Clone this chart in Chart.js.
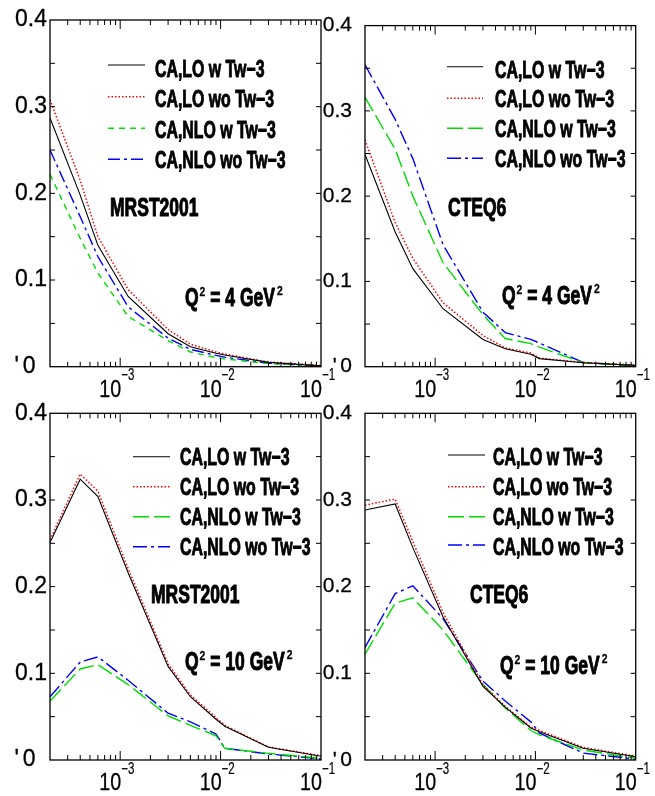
<!DOCTYPE html>
<html><head><meta charset="utf-8">
<script src="https://cdn.jsdelivr.net/npm/chart.js@4.4.1/dist/chart.umd.min.js"></script>
<style>
html,body{margin:0;padding:0;background:#fff;}
#wrap{position:relative;width:655px;height:796px;overflow:hidden;background:#fff;}
canvas{position:absolute;left:0;top:0;}
</style></head><body>
<div id="wrap">
<canvas id="c1" width="655" height="796"></canvas>
<canvas id="c2" width="655" height="796"></canvas>
<canvas id="c3" width="655" height="796"></canvas>
<canvas id="c4" width="655" height="796"></canvas>
</div>
<script>
// ---- data ----
const X_VALUES = [2e-4, 4e-4, 6e-4, 1.2e-3, 3e-3, 5e-3, 9e-3, 1.1e-2, 3e-2, 1e-1];
const SERIES_NAMES = ['CA,LO w Tw\u22123', 'CA,LO wo Tw\u22123', 'CA,NLO w Tw\u22123', 'CA,NLO wo Tw\u22123'];

// MRST2001, Q^2 = 4 GeV^2
const MRST_Q4_LO_W   = [0.287, 0.198, 0.140, 0.081, 0.038, 0.023, 0.0155, 0.0135, 0.005, 0.001];
const MRST_Q4_LO_WO  = [0.308, 0.215, 0.150, 0.089, 0.043, 0.026, 0.017, 0.0145, 0.0055, 0.0015];
const MRST_Q4_NLO_W  = [0.222, 0.148, 0.108, 0.058, 0.030, 0.017, 0.0105, 0.009, 0.0035, 0.001];
const MRST_Q4_NLO_WO = [0.250, 0.173, 0.127, 0.069, 0.033, 0.020, 0.013, 0.011, 0.004, 0.0008];

// CTEQ6, Q^2 = 4 GeV^2
const CTEQ_Q4_LO_W   = [0.249, 0.158, 0.115, 0.068, 0.032, 0.021, 0.0147, 0.0095, 0.0047, 0.0016];
const CTEQ_Q4_LO_WO  = [0.266, 0.169, 0.127, 0.075, 0.0366, 0.022, 0.016, 0.0100, 0.005, 0.0018];
const CTEQ_Q4_NLO_W  = [0.316, 0.255, 0.200, 0.122, 0.061, 0.033, 0.027, 0.023, 0.0046, 0.001];
const CTEQ_Q4_NLO_WO = [0.354, 0.290, 0.244, 0.143, 0.064, 0.040, 0.032, 0.0277, 0.005, 0.001];

// MRST2001, Q^2 = 10 GeV^2
const MRST_Q10_LO_W   = [0.251, 0.324, 0.304, 0.216, 0.108, 0.073, 0.047, 0.039, 0.0147, 0.0043];
const MRST_Q10_LO_WO  = [0.254, 0.330, 0.310, 0.221, 0.111, 0.075, 0.049, 0.040, 0.015, 0.005];
const MRST_Q10_NLO_W  = [0.068, 0.105, 0.110, 0.087, 0.051, 0.040, 0.028, 0.0135, 0.0077, 0.002];
const MRST_Q10_NLO_WO = [0.073, 0.113, 0.119, 0.092, 0.054, 0.044, 0.030, 0.0135, 0.007, 0.0012];

// CTEQ6, Q^2 = 10 GeV^2
const CTEQ_Q10_LO_W   = [0.2885, 0.2954, 0.245, 0.165, 0.085, 0.061, 0.037, 0.0327, 0.0135, 0.0038];
const CTEQ_Q10_LO_WO  = [0.294, 0.301, 0.252, 0.170, 0.087, 0.062, 0.038, 0.034, 0.0145, 0.0045];
const CTEQ_Q10_NLO_W  = [0.122, 0.181, 0.187, 0.150, 0.087, 0.060, 0.034, 0.029, 0.0115, 0.002];
const CTEQ_Q10_NLO_WO = [0.130, 0.192, 0.201, 0.163, 0.091, 0.068, 0.044, 0.031, 0.008, 0.001];

const Y_TICKS = [0, 0.1, 0.2, 0.3, 0.4];
const Y_TICK_LABELS = ['0', '0.1', '0.2', '0.3', '0.4'];
const X_TICKS = [1e-3, 1e-2, 1e-1];
const X_TICK_EXPONENTS = ['\u22123', '\u22122', '\u22121'];
const PDF_NAMES = ['MRST2001', 'CTEQ6', 'MRST2001', 'CTEQ6'];
const Q2_VALUES = ['4', '4', '10', '10'];

// ---- layout & style (not data) ----
const FONT = "'Liberation Sans', Arial, Helvetica, sans-serif";
const COLORS = ['#000000', '#ff0000', '#00dd00', '#0000ff'];
const WIDTHS = [1.1, 1.5, 1.4, 1.4];
const PANELS = [
  {id:'c1', series:[MRST_Q4_LO_W, MRST_Q4_LO_WO, MRST_Q4_NLO_W, MRST_Q4_NLO_WO],
   left:50, right:321, top:20, bottom:366.7, col:0, labelPad:3, labelSize:23,
   greenDash:[6,5], blueDash:[12,4,3,4],
   leg:{x0:108, x1:145, tx:155, ly:[65,96.7,128.3,159.3], by:[76.5,107,138,168]},
   pdf:{x:110, y:216}, q:{x:185, y:306}},
  {id:'c2', series:[CTEQ_Q4_LO_W, CTEQ_Q4_LO_WO, CTEQ_Q4_NLO_W, CTEQ_Q4_NLO_WO],
   left:365, right:635.7, top:20, bottom:366.7, col:1, labelPad:13, labelSize:21,
   greenDash:[16,5], blueDash:[14,4,3,4],
   leg:{x0:447, x1:483, tx:495, ly:[66.7,98.3,128.3,158.3], by:[78,107,137,167]},
   pdf:{x:448, y:216}, q:{x:502, y:304}},
  {id:'c3', series:[MRST_Q10_LO_W, MRST_Q10_LO_WO, MRST_Q10_NLO_W, MRST_Q10_NLO_WO],
   left:50, right:321, top:413.3, bottom:760, col:0, labelPad:3, labelSize:23,
   greenDash:[16,5], blueDash:[14,4,3,4],
   leg:{x0:133, x1:170, tx:180, ly:[456.7,486.7,516.7,546.7], by:[465,495,525,555]},
   pdf:{x:151, y:603}, q:{x:185, y:670}},
  {id:'c4', series:[CTEQ_Q10_LO_W, CTEQ_Q10_LO_WO, CTEQ_Q10_NLO_W, CTEQ_Q10_NLO_WO],
   left:365, right:635.7, top:413.3, bottom:760, col:1, labelPad:13, labelSize:21,
   greenDash:[16,5], blueDash:[14,4,3,4],
   leg:{x0:448, x1:485, tx:493, ly:[455,486.7,516.7,545], by:[465,495,525,555]},
   pdf:{x:470, y:603}, q:{x:500, y:674}}
];
const W = 655, H = 796, YW = 50, XH = 30;

function measure(ctx, str, font) {
  ctx.save(); ctx.font = font; const w = ctx.measureText(str).width; ctx.restore(); return w;
}
function drawText(ctx, str, x, y, font, sx, align, stroke) {
  ctx.save(); ctx.font = font; ctx.fillStyle = '#000'; ctx.strokeStyle = '#000';
  ctx.textAlign = align || 'left'; ctx.textBaseline = 'alphabetic';
  ctx.translate(x, y); ctx.scale(sx, 1); ctx.fillText(str, 0, 0);
  if (stroke) { ctx.lineWidth = stroke; ctx.lineJoin = 'round'; ctx.strokeText(str, 0, 0); }
  ctx.restore();
  return measure(ctx, str, font) * sx;
}

const decorPlugin = {
  id: 'decor',
  afterDatasetsDraw(chart, args, opts) {
    const P = opts.panel;
    const {ctx, chartArea: a} = chart;
    const xs = chart.scales.x, ys = chart.scales.y;
    ctx.save();
    ctx.strokeStyle = '#000';
    ctx.setLineDash([]);
    // frame
    ctx.lineWidth = 1.3;
    ctx.strokeRect(a.left, a.top, a.right - a.left, a.bottom - a.top);
    // y ticks (inward, both sides)
    ctx.lineWidth = 1;
    ctx.beginPath();
    for (let i = 1; i < 8; i++) {
      const py = ys.getPixelForValue(i * 0.05);
      ctx.moveTo(a.left, py); ctx.lineTo(a.left + 5, py);
      ctx.moveTo(a.right, py); ctx.lineTo(a.right - 5, py);
    }
    // x ticks (log, inward, bottom and top)
    for (let e = -4; e <= -1; e++) {
      for (let k = 1; k <= 9; k++) {
        const v = k * Math.pow(10, e);
        if (v <= xs.min * 1.001 || v >= xs.max * 0.999) continue;
        const px = xs.getPixelForValue(v);
        const len = k === 1 ? 9 : 5;
        ctx.moveTo(px, a.bottom); ctx.lineTo(px, a.bottom - len);
        ctx.moveTo(px, a.top); ctx.lineTo(px, a.top + len);
      }
    }
    ctx.stroke();
    // x tick labels 10^n
    X_TICKS.forEach((v, i) => {
      const px = xs.getPixelForValue(v);
      drawText(ctx, '10', px + 1, a.bottom + 30, `24px ${FONT}`, 0.82, 'right', 0.3);
      drawText(ctx, X_TICK_EXPONENTS[i], px + 1, a.bottom + 13.5, `16px ${FONT}`, 0.72, 'left', 0.2);
    });
    // legend
    const L = P.leg;
    chart.data.datasets.forEach((ds, i) => {
      ctx.save();
      ctx.strokeStyle = ds.borderColor; ctx.lineWidth = ds.borderWidth;
      ctx.setLineDash(ds.borderDash || []);
      ctx.beginPath(); ctx.moveTo(L.x0, L.ly[i]); ctx.lineTo(L.x1, L.ly[i]); ctx.stroke();
      ctx.restore();
      drawText(ctx, ds.label, L.tx, L.by[i], `bold 23px ${FONT}`, 0.69, 'left', 0.9);
    });
    // PDF set name
    drawText(ctx, opts.pdfName, P.pdf.x, P.pdf.y, `bold 25px ${FONT}`, 0.70, 'left', 1);
    // Q^2 = n GeV^2
    const mf = `bold 25px ${FONT}`, sf = `bold 13px ${FONT}`;
    let x = P.q.x;
    x += drawText(ctx, 'Q', x, P.q.y, mf, 0.70, 'left', 1);
    x += drawText(ctx, '2', x + 1, P.q.y - 10, sf, 0.8, 'left', 0.3) + 1;
    x += drawText(ctx, ' = ' + opts.q2 + ' GeV', x, P.q.y, mf, 0.70, 'left', 1);
    drawText(ctx, '2', x + 2, P.q.y - 11, sf, 0.8, 'left', 0.3);
    ctx.restore();
  }
};

Chart.defaults.font.family = FONT;
Chart.defaults.color = '#000';

PANELS.forEach((P, pi) => {
  const dashes = [[], [1.5, 2], P.greenDash, P.blueDash];
  const datasets = P.series.map((vals, si) => ({
    label: SERIES_NAMES[si],
    data: X_VALUES.map((xv, k) => ({x: xv, y: vals[k]})),
    borderColor: COLORS[si],
    borderWidth: WIDTHS[si],
    borderDash: dashes[si],
    pointRadius: 0,
    tension: 0,
    fill: false
  }));
  new Chart(document.getElementById(P.id), {
    type: 'line',
    data: {datasets},
    options: {
      responsive: false,
      animation: false,
      devicePixelRatio: 1,
      events: [],
      layout: {padding: {left: P.left - YW, right: W - P.right, top: P.top, bottom: H - XH - P.bottom}},
      plugins: {
        legend: {display: false},
        tooltip: {enabled: false},
        decor: {panel: P, pdfName: PDF_NAMES[pi], q2: Q2_VALUES[pi]}
      },
      scales: {
        x: {
          type: 'logarithmic', min: 2e-4, max: 0.1,
          grid: {display: false, drawTicks: false},
          border: {display: false},
          ticks: {display: false},
          afterFit: s => { s.height = XH; }
        },
        y: {
          type: 'linear', min: 0, max: 0.4,
          grid: {display: false, drawTicks: false},
          border: {display: false},
          afterBuildTicks: s => { s.ticks = Y_TICKS.map(v => ({value: v})); },
          ticks: {
            padding: P.labelPad,
            font: {size: P.labelSize, family: FONT},
            color: '#000',
            textStrokeColor: '#000',
            textStrokeWidth: 0.3,
            callback: (v) => {
              const idx = Y_TICKS.findIndex(t => Math.abs(t - v) < 1e-9);
              const lab = Y_TICK_LABELS[idx];
              if (idx === 0) return "'\u2006" + lab + (P.col === 0 ? '\u2002' : '');
              return lab;
            }
          },
          afterFit: s => { s.width = YW; }
        }
      }
    },
    plugins: [decorPlugin]
  });
});
</script>
</body></html>
